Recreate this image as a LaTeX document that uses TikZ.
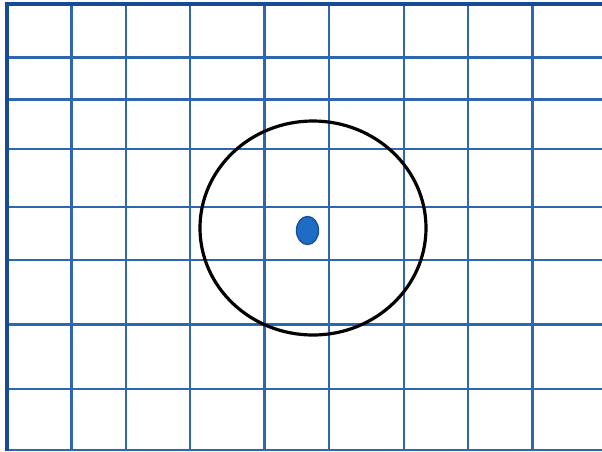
\documentclass[tikz,border=0pt]{standalone}
\usepackage{xcolor}
\usepackage{tikz}
\definecolor{gridblue}{RGB}{46,102,176}
\definecolor{edgeblue}{RGB}{22,76,146}
\definecolor{dotblue}{RGB}{30,108,196}
\definecolor{dotedge}{RGB}{24,80,150}

\begin{document}
\begin{tikzpicture}[
  x=1pt,y=-1pt,
  gridline/.style={draw=gridblue,line width=2.2pt},
  edgeline/.style={draw=edgeblue,line width=4.5pt},
  ring/.style={draw=black,line width=3.2pt},
  spot/.style={fill=dotblue,draw=dotedge,line width=1.4pt}
]
\useasboundingbox (0,0) rectangle (602,451);
% grid lines
\foreach \gx in {71.5,126,190,264.5,329,404,468,532.5}
  \draw[gridline] (\gx,4) -- (\gx,451);
\foreach \gy in {57.5,99.5,149,207,260,324.5,389,450}
  \draw[gridline] (7,\gy) -- (602,\gy);
% outer edges
\draw[edgeline] (7,451) -- (7,4) -- (602,4);
% circle and dot
\draw[ring] (313,228) ellipse [x radius=113, y radius=107];
\path[spot] (307.5,230.5) ellipse [x radius=11, y radius=14];
\end{tikzpicture}
\end{document}
